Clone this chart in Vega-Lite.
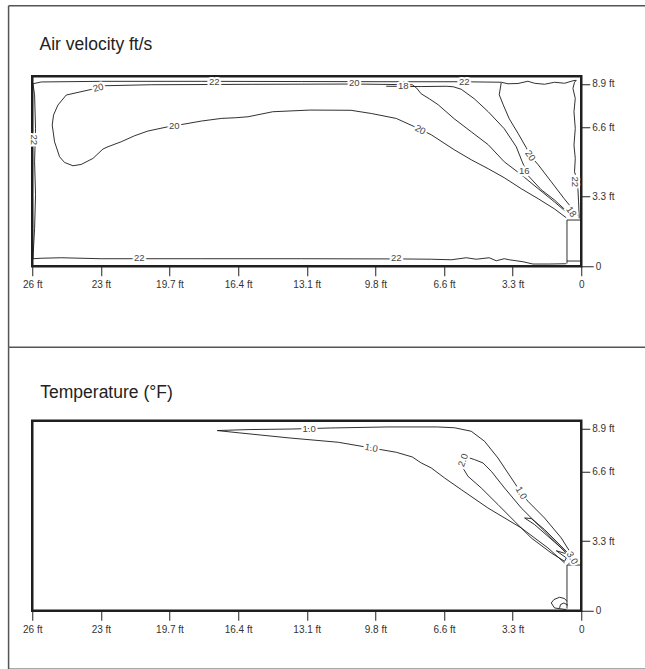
{
"$schema":"https://vega.github.io/schema/vega-lite/v6.json",
"background":"white",
"padding":{"left":6.25,"top":3.25,"right":0,"bottom":0},
"config":{"view":{"stroke":"#1f1f1f","strokeWidth":2.5},"text":{"font":"Liberation Sans"},
"axis":{"domain":false,"grid":false,"tickWidth":1,"tickColor":"#222222","labelFontSize":10,"labelColor":"#333333","labelFont":"Liberation Sans","labelOverlap":false,"labelFlush":false,"title":null},
"axisX":{"tickSize":9.5,"labelPadding":4},
"axisY":{"tickSize":8.5,"labelPadding":2}},
"datasets":{
"c1":[
{"id":"w","i":0,"x":7.99,"y":0.108},{"id":"w","i":1,"x":7.966,"y":0.539},{"id":"w","i":2,"x":7.952,"y":1.027},{"id":"w","i":3,"x":7.966,"y":1.501},{"id":"w","i":4,"x":7.952,"y":1.976},{"id":"w","i":5,"x":7.966,"y":2.464},{"id":"w","i":6,"x":7.99,"y":2.622},{"id":"w","i":7,"x":7.869,"y":2.648},{"id":"w","i":8,"x":6.995,"y":2.657},{"id":"w","i":9,"x":5.537,"y":2.657},{"id":"w","i":10,"x":4.08,"y":2.654},{"id":"w","i":11,"x":2.623,"y":2.651},{"id":"w","i":12,"x":1.749,"y":2.651},{"id":"w","i":13,"x":1.166,"y":2.644},{"id":"w","i":14,"x":1.068,"y":2.622},{"id":"w","i":15,"x":0.922,"y":2.626},{"id":"w","i":16,"x":0.777,"y":2.658},{"id":"w","i":17,"x":0.681,"y":2.629},{"id":"w","i":18,"x":0.535,"y":2.615},{"id":"w","i":19,"x":0.389,"y":2.644},{"id":"w","i":20,"x":0.243,"y":2.629},{"id":"w","i":21,"x":0.121,"y":2.665},{"id":"w","i":22,"x":0.073,"y":2.672},{"id":"w","i":23,"x":0.098,"y":2.644},{"id":"w","i":24,"x":0.121,"y":2.555},{"id":"w","i":25,"x":0.087,"y":2.411},{"id":"w","i":26,"x":0.106,"y":2.22},{"id":"w","i":27,"x":0.087,"y":1.98},{"id":"w","i":28,"x":0.106,"y":1.741},{"id":"w","i":29,"x":0.087,"y":1.549},{"id":"w","i":30,"x":0.098,"y":1.358},{"id":"w","i":31,"x":0.073,"y":1.272},{"id":"w","i":32,"x":0.048,"y":1.099},{"id":"w","i":33,"x":0.039,"y":0.927},{"id":"w","i":34,"x":0.029,"y":0.687},
{"id":"f","i":0,"x":7.99,"y":0.108},{"id":"f","i":1,"x":7.869,"y":0.115},{"id":"f","i":2,"x":7.577,"y":0.122},{"id":"f","i":3,"x":6.995,"y":0.108},{"id":"f","i":4,"x":5.537,"y":0.108},{"id":"f","i":5,"x":4.08,"y":0.108},{"id":"f","i":6,"x":2.623,"y":0.105},{"id":"f","i":7,"x":2.186,"y":0.101},{"id":"f","i":8,"x":1.894,"y":0.093},{"id":"f","i":9,"x":1.676,"y":0.122},{"id":"f","i":10,"x":1.53,"y":0.101},{"id":"f","i":11,"x":1.341,"y":0.122},{"id":"f","i":12,"x":1.239,"y":0.079},{"id":"f","i":13,"x":1.122,"y":0.108},{"id":"f","i":14,"x":1.049,"y":0.093},{"id":"f","i":15,"x":0.947,"y":0.079},{"id":"f","i":16,"x":0.85,"y":0.065},{"id":"f","i":17,"x":0.704,"y":0.032},{"id":"f","i":18,"x":0.466,"y":0.032},{"id":"f","i":19,"x":0.219,"y":0.036},
{"id":"p","i":0,"x":2.463,"y":2.608},{"id":"p","i":1,"x":3.308,"y":2.618},{"id":"p","i":2,"x":4.809,"y":2.614},{"id":"p","i":3,"x":6.266,"y":2.608},{"id":"p","i":4,"x":6.98,"y":2.593},{"id":"p","i":5,"x":7.116,"y":2.546},{"id":"p","i":6,"x":7.505,"y":2.46},{"id":"p","i":7,"x":7.626,"y":2.316},{"id":"p","i":8,"x":7.69,"y":2.172},{"id":"p","i":9,"x":7.709,"y":2.029},{"id":"p","i":10,"x":7.675,"y":1.789},{"id":"p","i":11,"x":7.602,"y":1.573},{"id":"p","i":12,"x":7.529,"y":1.491},{"id":"p","i":13,"x":7.407,"y":1.444},{"id":"p","i":14,"x":7.286,"y":1.463},{"id":"p","i":15,"x":7.116,"y":1.549},{"id":"p","i":16,"x":6.97,"y":1.684},{"id":"p","i":17,"x":6.897,"y":1.717},{"id":"p","i":18,"x":6.703,"y":1.789},{"id":"p","i":19,"x":6.509,"y":1.875},{"id":"p","i":20,"x":6.314,"y":1.943},{"id":"p","i":21,"x":6.023,"y":2.004},{"id":"p","i":22,"x":5.731,"y":2.052},{"id":"p","i":23,"x":5.537,"y":2.086},{"id":"p","i":24,"x":5.246,"y":2.124},{"id":"p","i":25,"x":5.035,"y":2.134},{"id":"p","i":26,"x":4.855,"y":2.148},{"id":"p","i":27,"x":4.495,"y":2.22},{"id":"p","i":28,"x":3.956,"y":2.244},{"id":"p","i":29,"x":3.357,"y":2.241},{"id":"p","i":30,"x":3.06,"y":2.195},{"id":"p","i":31,"x":2.696,"y":2.124},{"id":"p","i":32,"x":2.332,"y":1.961},{"id":"p","i":33,"x":2.186,"y":1.889},{"id":"p","i":34,"x":1.851,"y":1.674},{"id":"p","i":35,"x":1.603,"y":1.53},{"id":"p","i":36,"x":1.355,"y":1.401},{"id":"p","i":37,"x":1.122,"y":1.272},{"id":"p","i":38,"x":0.874,"y":1.114},{"id":"p","i":39,"x":0.627,"y":0.97},{"id":"p","i":40,"x":0.393,"y":0.826},{"id":"p","i":41,"x":0.219,"y":0.697},
{"id":"b","i":0,"x":2.463,"y":2.608},{"id":"b","i":1,"x":2.404,"y":2.565},{"id":"b","i":2,"x":2.332,"y":2.478},{"id":"b","i":3,"x":2.215,"y":2.407},{"id":"b","i":4,"x":2.084,"y":2.32},{"id":"b","i":5,"x":1.851,"y":2.119},{"id":"b","i":6,"x":1.603,"y":1.932},{"id":"b","i":7,"x":1.355,"y":1.746},{"id":"b","i":8,"x":1.122,"y":1.501},{"id":"b","i":9,"x":0.874,"y":1.315},{"id":"b","i":10,"x":0.627,"y":1.114},{"id":"b","i":11,"x":0.393,"y":0.927},{"id":"b","i":12,"x":0.189,"y":0.754},
{"id":"s","i":0,"x":2.842,"y":2.586},{"id":"s","i":1,"x":2.332,"y":2.582},{"id":"s","i":2,"x":1.967,"y":2.586},{"id":"s","i":3,"x":1.865,"y":2.579},{"id":"s","i":4,"x":1.749,"y":2.543},{"id":"s","i":5,"x":1.559,"y":2.407},{"id":"s","i":6,"x":1.355,"y":2.22},{"id":"s","i":7,"x":1.122,"y":1.976},{"id":"s","i":8,"x":0.947,"y":1.717},{"id":"s","i":9,"x":0.86,"y":1.501},{"id":"s","i":10,"x":0.772,"y":1.3},{"id":"s","i":11,"x":0.583,"y":1.099},{"id":"s","i":12,"x":0.393,"y":0.955},{"id":"s","i":13,"x":0.189,"y":0.769},
{"id":"r","i":0,"x":1.166,"y":2.636},{"id":"r","i":1,"x":1.195,"y":2.464},{"id":"r","i":2,"x":1.137,"y":2.32},{"id":"r","i":3,"x":1.049,"y":2.119},{"id":"r","i":4,"x":0.918,"y":1.904},{"id":"r","i":5,"x":0.801,"y":1.703},{"id":"r","i":6,"x":0.743,"y":1.588},{"id":"r","i":7,"x":0.627,"y":1.458},{"id":"r","i":8,"x":0.437,"y":1.214},{"id":"r","i":9,"x":0.248,"y":0.97},{"id":"r","i":10,"x":0.117,"y":0.812},{"id":"r","i":11,"x":0.058,"y":0.726},
{"id":"dA","i":0,"x":0,"y":0.664},{"id":"dA","i":1,"x":0.208,"y":0.664},{"id":"dA","i":2,"x":0.208,"y":0.04},
{"id":"dB","i":0,"x":0.208,"y":0.075},{"id":"dB","i":1,"x":0,"y":0.075}
],
"c2":[
{"id":"u","i":0,"x":5.304,"y":2.589},{"id":"u","i":1,"x":4.855,"y":2.603},{"id":"u","i":2,"x":4.226,"y":2.611},{"id":"u","i":3,"x":3.658,"y":2.626},{"id":"u","i":4,"x":2.817,"y":2.641},{"id":"u","i":5,"x":2.098,"y":2.641},{"id":"u","i":6,"x":1.846,"y":2.629},{"id":"u","i":7,"x":1.603,"y":2.579},{"id":"u","i":8,"x":1.409,"y":2.435},{"id":"u","i":9,"x":1.214,"y":2.195},{"id":"u","i":10,"x":1.02,"y":1.908},{"id":"u","i":11,"x":0.874,"y":1.693},{"id":"u","i":12,"x":0.777,"y":1.573},{"id":"u","i":13,"x":0.535,"y":1.333},{"id":"u","i":14,"x":0.291,"y":1.046},{"id":"u","i":15,"x":0.17,"y":0.855},{"id":"u","i":16,"x":0.121,"y":0.74},{"id":"u","i":17,"x":0.189,"y":0.668},
{"id":"l","i":0,"x":5.304,"y":2.589},{"id":"l","i":1,"x":4.975,"y":2.555},{"id":"l","i":2,"x":4.255,"y":2.483},{"id":"l","i":3,"x":3.541,"y":2.421},{"id":"l","i":4,"x":3.06,"y":2.339},{"id":"l","i":5,"x":2.696,"y":2.277},{"id":"l","i":6,"x":2.463,"y":2.21},{"id":"l","i":7,"x":2.332,"y":2.124},{"id":"l","i":8,"x":2.186,"y":2.052},{"id":"l","i":9,"x":1.992,"y":1.908},{"id":"l","i":10,"x":1.749,"y":1.741},{"id":"l","i":11,"x":1.36,"y":1.477},{"id":"l","i":12,"x":0.874,"y":1.19},{"id":"l","i":13,"x":0.485,"y":0.902},{"id":"l","i":14,"x":0.243,"y":0.687},
{"id":"t","i":0,"x":1.628,"y":2.195},{"id":"t","i":1,"x":1.555,"y":2.172},{"id":"t","i":2,"x":1.432,"y":2.124},{"id":"t","i":3,"x":1.311,"y":2.004},{"id":"t","i":4,"x":1.118,"y":1.764},{"id":"t","i":5,"x":0.874,"y":1.477},{"id":"t","i":6,"x":0.631,"y":1.239},{"id":"t","i":7,"x":0.389,"y":0.999},{"id":"t","i":8,"x":0.194,"y":0.807},{"id":"t","i":9,"x":0.243,"y":0.711},{"id":"t","i":10,"x":0.437,"y":0.83},{"id":"t","i":11,"x":0.729,"y":1.046},{"id":"t","i":12,"x":0.972,"y":1.286},{"id":"t","i":13,"x":1.214,"y":1.526},{"id":"t","i":14,"x":1.457,"y":1.764},{"id":"t","i":15,"x":1.651,"y":1.932},{"id":"t","i":16,"x":1.724,"y":2.052},
{"id":"h","i":0,"x":0.194,"y":0.83},{"id":"h","i":1,"x":0.34,"y":0.974},{"id":"h","i":2,"x":0.535,"y":1.167},{"id":"h","i":3,"x":0.729,"y":1.325},{"id":"h","i":4,"x":0.826,"y":1.333},{"id":"h","i":5,"x":0.681,"y":1.239},{"id":"h","i":6,"x":0.485,"y":1.07},{"id":"h","i":7,"x":0.291,"y":0.902},{"id":"h","i":8,"x":0.17,"y":0.783},
{"id":"k","i":0,"x":0.364,"y":0.862},{"id":"k","i":1,"x":0.194,"y":0.812},{"id":"k","i":2,"x":0.189,"y":0.74},{"id":"k","i":3,"x":0.364,"y":0.862},
{"id":"o","i":0,"x":0.219,"y":0.017},{"id":"o","i":1,"x":0.389,"y":0.04},{"id":"o","i":2,"x":0.437,"y":0.112},{"id":"o","i":3,"x":0.398,"y":0.161},{"id":"o","i":4,"x":0.316,"y":0.194},{"id":"o","i":5,"x":0.243,"y":0.175},{"id":"o","i":6,"x":0.208,"y":0.136},
{"id":"n","i":0,"x":0.316,"y":0.04},{"id":"n","i":1,"x":0.302,"y":0.089},{"id":"n","i":2,"x":0.252,"y":0.112},{"id":"n","i":3,"x":0.194,"y":0.079},
{"id":"d","i":0,"x":0,"y":0.657},{"id":"d","i":1,"x":0.208,"y":0.657},{"id":"d","i":2,"x":0.208,"y":0.03}
],
"l1":[
{"g":"h","t":"22","x":5.348,"y":2.651},{"g":"h","t":"20","x":3.308,"y":2.629},{"g":"h","t":"18","x":2.594,"y":2.593},{"g":"h","t":"22","x":1.705,"y":2.651},{"g":"h","t":"20","x":5.931,"y":2.019},{"g":"h","t":"22","x":6.441,"y":0.115},{"g":"h","t":"22","x":2.696,"y":0.115},{"g":"h","t":"16","x":0.831,"y":1.372},
{"g":"s","t":"20","x":7.038,"y":2.565},
{"g":"d28","t":"20","x":2.346,"y":1.961},
{"g":"d55","t":"20","x":0.743,"y":1.588},{"g":"d55","t":"18","x":0.146,"y":0.783},
{"g":"v","t":"22","x":7.971,"y":1.818},{"g":"v","t":"22","x":0.087,"y":1.214}
],
"l2":[
{"g":"h","t":"1.0","x":3.964,"y":2.612},
{"g":"s","t":"1.0","x":3.06,"y":2.339},
{"g":"d60","t":"1.0","x":0.874,"y":1.693},{"g":"d60","t":"3.0","x":0.131,"y":0.759},
{"g":"u","t":"2.0","x":1.72,"y":2.162}
]
},
"spacing":154.5,
"bounds":"flush",
"vconcat":[
{
"width":549,"height":190,
"layer":[
{"data":{"name":"c1"},"mark":{"type":"line","color":"#1a1a1a","strokeWidth":0.9},
"encoding":{
"x":{"field":"x","type":"quantitative","title":null,"scale":{"domain":[8,0],"nice":false,"zero":false},
"axis":{"values":[0,1,2,3,4,5,6,7,8],"labelExpr":"datum.value==0?'0':datum.value==1?'3.3 ft':datum.value==2?'6.6 ft':datum.value==3?'9.8 ft':datum.value==4?'13.1 ft':datum.value==5?'16.4 ft':datum.value==6?'19.7 ft':datum.value==7?'23 ft':'26 ft'","title":null,"encode":{"labels":{"update":{"dy":{"signal":"datum.value === 0 ? 4 : 0"}}}}}},
"y":{"field":"y","type":"quantitative","title":null,"scale":{"domain":[0,2.73],"nice":false,"zero":false},
"axis":{"orient":"right","values":[0,1,2,2.62],"labelExpr":"datum.value==0?'0':datum.value==1?'3.3 ft':datum.value==2?'6.6 ft':'8.9 ft'","title":null,"tickSize":{"condition":{"test":"datum.value === 0","value":12},"value":8.5},"encode":{"labels":{"update":{"dx":{"signal":"datum.value === 0 ? 11 : 0"}}}}}},
"detail":{"field":"id"},
"order":{"field":"i","type":"quantitative"}}},
{"data":{"values":[{}]},"mark":{"type":"rule","color":"#555555","strokeWidth":1.5},"encoding":{"x":{"datum":8.345,"type":"quantitative","title":null},"x2":{"datum":-0.93},"y":{"datum":3.743,"type":"quantitative","title":null}}},
{"data":{"values":[{}]},"mark":{"type":"rule","color":"#555555","strokeWidth":1.5},"encoding":{"x":{"datum":8.345,"type":"quantitative","title":null},"y":{"datum":3.743,"type":"quantitative","title":null},"y2":{"datum":-1.164}}},
{"data":{"values":[{}]},"mark":{"type":"rule","color":"#555555","strokeWidth":1.5},"encoding":{"x":{"datum":8.345,"type":"quantitative","title":null},"x2":{"datum":-0.93},"y":{"datum":-1.164,"type":"quantitative","title":null}}},
{"data":{"values":[{"title":"Air velocity ft/s"}]},"mark":{"type":"text","align":"left","baseline":"alphabetic","fontSize":17.5,"color":"#222222"},"encoding":{"x":{"datum":7.894,"type":"quantitative","title":null},"y":{"datum":3.106,"type":"quantitative","title":null},"text":{"field":"title"}}},
{"data":{"name":"l1"},"transform":[{"filter":"datum.g=='h'"}],"mark":{"type":"text","fontSize":9.5,"color":"white","stroke":"white","strokeWidth":4},"encoding":{"x":{"field":"x","type":"quantitative","title":null},"y":{"field":"y","type":"quantitative","title":null},"text":{"field":"t"}}},
{"data":{"name":"l1"},"transform":[{"filter":"datum.g=='h'"}],"mark":{"type":"text","fontSize":9.5,"color":"#444444"},"encoding":{"x":{"field":"x","type":"quantitative","title":null},"y":{"field":"y","type":"quantitative","title":null},"text":{"field":"t"}}},
{"data":{"name":"l1"},"transform":[{"filter":"datum.g=='s'"}],"mark":{"type":"text","angle":-15,"fontSize":9.5,"color":"white","stroke":"white","strokeWidth":4},"encoding":{"x":{"field":"x","type":"quantitative","title":null},"y":{"field":"y","type":"quantitative","title":null},"text":{"field":"t"}}},
{"data":{"name":"l1"},"transform":[{"filter":"datum.g=='s'"}],"mark":{"type":"text","angle":-15,"fontSize":9.5,"color":"#444444"},"encoding":{"x":{"field":"x","type":"quantitative","title":null},"y":{"field":"y","type":"quantitative","title":null},"text":{"field":"t"}}},
{"data":{"name":"l1"},"transform":[{"filter":"datum.g=='d28'"}],"mark":{"type":"text","angle":28,"fontSize":9.5,"color":"white","stroke":"white","strokeWidth":4},"encoding":{"x":{"field":"x","type":"quantitative","title":null},"y":{"field":"y","type":"quantitative","title":null},"text":{"field":"t"}}},
{"data":{"name":"l1"},"transform":[{"filter":"datum.g=='d28'"}],"mark":{"type":"text","angle":28,"fontSize":9.5,"color":"#444444"},"encoding":{"x":{"field":"x","type":"quantitative","title":null},"y":{"field":"y","type":"quantitative","title":null},"text":{"field":"t"}}},
{"data":{"name":"l1"},"transform":[{"filter":"datum.g=='d55'"}],"mark":{"type":"text","angle":55,"fontSize":9.5,"color":"white","stroke":"white","strokeWidth":4},"encoding":{"x":{"field":"x","type":"quantitative","title":null},"y":{"field":"y","type":"quantitative","title":null},"text":{"field":"t"}}},
{"data":{"name":"l1"},"transform":[{"filter":"datum.g=='d55'"}],"mark":{"type":"text","angle":55,"fontSize":9.5,"color":"#444444"},"encoding":{"x":{"field":"x","type":"quantitative","title":null},"y":{"field":"y","type":"quantitative","title":null},"text":{"field":"t"}}},
{"data":{"name":"l1"},"transform":[{"filter":"datum.g=='v'"}],"mark":{"type":"text","angle":90,"fontSize":9.5,"color":"white","stroke":"white","strokeWidth":4},"encoding":{"x":{"field":"x","type":"quantitative","title":null},"y":{"field":"y","type":"quantitative","title":null},"text":{"field":"t"}}},
{"data":{"name":"l1"},"transform":[{"filter":"datum.g=='v'"}],"mark":{"type":"text","angle":90,"fontSize":9.5,"color":"#444444"},"encoding":{"x":{"field":"x","type":"quantitative","title":null},"y":{"field":"y","type":"quantitative","title":null},"text":{"field":"t"}}}
]
},
{
"width":549,"height":190,
"layer":[
{"data":{"name":"c2"},"mark":{"type":"line","color":"#1a1a1a","strokeWidth":0.9},
"encoding":{
"x":{"field":"x","type":"quantitative","title":null,"scale":{"domain":[8,0],"nice":false,"zero":false},
"axis":{"values":[0,1,2,3,4,5,6,7,8],"labelExpr":"datum.value==0?'0':datum.value==1?'3.3 ft':datum.value==2?'6.6 ft':datum.value==3?'9.8 ft':datum.value==4?'13.1 ft':datum.value==5?'16.4 ft':datum.value==6?'19.7 ft':datum.value==7?'23 ft':'26 ft'","title":null,"encode":{"labels":{"update":{"dy":{"signal":"datum.value === 0 ? 4 : 0"}}}}}},
"y":{"field":"y","type":"quantitative","title":null,"scale":{"domain":[0,2.73],"nice":false,"zero":false},
"axis":{"orient":"right","values":[0,1,2,2.62],"labelExpr":"datum.value==0?'0':datum.value==1?'3.3 ft':datum.value==2?'6.6 ft':'8.9 ft'","title":null,"tickSize":{"condition":{"test":"datum.value === 0","value":12},"value":8.5},"encode":{"labels":{"update":{"dx":{"signal":"datum.value === 0 ? 11 : 0"}}}}}},
"detail":{"field":"id"},
"order":{"field":"i","type":"quantitative"}}},
{"data":{"values":[{}]},"mark":{"type":"rule","color":"#555555","strokeWidth":1.5},"encoding":{"x":{"datum":8.345,"type":"quantitative","title":null},"y":{"datum":3.786,"type":"quantitative","title":null},"y2":{"datum":-0.841}}},
{"data":{"values":[{}]},"mark":{"type":"rule","color":"#555555","strokeWidth":1.5},"encoding":{"x":{"datum":8.345,"type":"quantitative","title":null},"x2":{"datum":-0.93},"y":{"datum":-0.841,"type":"quantitative","title":null}}},
{"data":{"values":[{"title":"Temperature (°F)"}]},"mark":{"type":"text","align":"left","baseline":"alphabetic","fontSize":17.5,"color":"#222222"},"encoding":{"x":{"datum":7.883,"type":"quantitative","title":null},"y":{"datum":3.05,"type":"quantitative","title":null},"text":{"field":"title"}}},
{"data":{"name":"l2"},"transform":[{"filter":"datum.g=='h'"}],"mark":{"type":"text","fontSize":9.5,"color":"white","stroke":"white","strokeWidth":4},"encoding":{"x":{"field":"x","type":"quantitative","title":null},"y":{"field":"y","type":"quantitative","title":null},"text":{"field":"t"}}},
{"data":{"name":"l2"},"transform":[{"filter":"datum.g=='h'"}],"mark":{"type":"text","fontSize":9.5,"color":"#444444"},"encoding":{"x":{"field":"x","type":"quantitative","title":null},"y":{"field":"y","type":"quantitative","title":null},"text":{"field":"t"}}},
{"data":{"name":"l2"},"transform":[{"filter":"datum.g=='s'"}],"mark":{"type":"text","angle":10,"fontSize":9.5,"color":"white","stroke":"white","strokeWidth":4},"encoding":{"x":{"field":"x","type":"quantitative","title":null},"y":{"field":"y","type":"quantitative","title":null},"text":{"field":"t"}}},
{"data":{"name":"l2"},"transform":[{"filter":"datum.g=='s'"}],"mark":{"type":"text","angle":10,"fontSize":9.5,"color":"#444444"},"encoding":{"x":{"field":"x","type":"quantitative","title":null},"y":{"field":"y","type":"quantitative","title":null},"text":{"field":"t"}}},
{"data":{"name":"l2"},"transform":[{"filter":"datum.g=='d60'"}],"mark":{"type":"text","angle":60,"fontSize":9.5,"color":"white","stroke":"white","strokeWidth":4},"encoding":{"x":{"field":"x","type":"quantitative","title":null},"y":{"field":"y","type":"quantitative","title":null},"text":{"field":"t"}}},
{"data":{"name":"l2"},"transform":[{"filter":"datum.g=='d60'"}],"mark":{"type":"text","angle":60,"fontSize":9.5,"color":"#444444"},"encoding":{"x":{"field":"x","type":"quantitative","title":null},"y":{"field":"y","type":"quantitative","title":null},"text":{"field":"t"}}},
{"data":{"name":"l2"},"transform":[{"filter":"datum.g=='u'"}],"mark":{"type":"text","angle":-70,"fontSize":9.5,"color":"white","stroke":"white","strokeWidth":4},"encoding":{"x":{"field":"x","type":"quantitative","title":null},"y":{"field":"y","type":"quantitative","title":null},"text":{"field":"t"}}},
{"data":{"name":"l2"},"transform":[{"filter":"datum.g=='u'"}],"mark":{"type":"text","angle":-70,"fontSize":9.5,"color":"#444444"},"encoding":{"x":{"field":"x","type":"quantitative","title":null},"y":{"field":"y","type":"quantitative","title":null},"text":{"field":"t"}}}
]
}
]
}
